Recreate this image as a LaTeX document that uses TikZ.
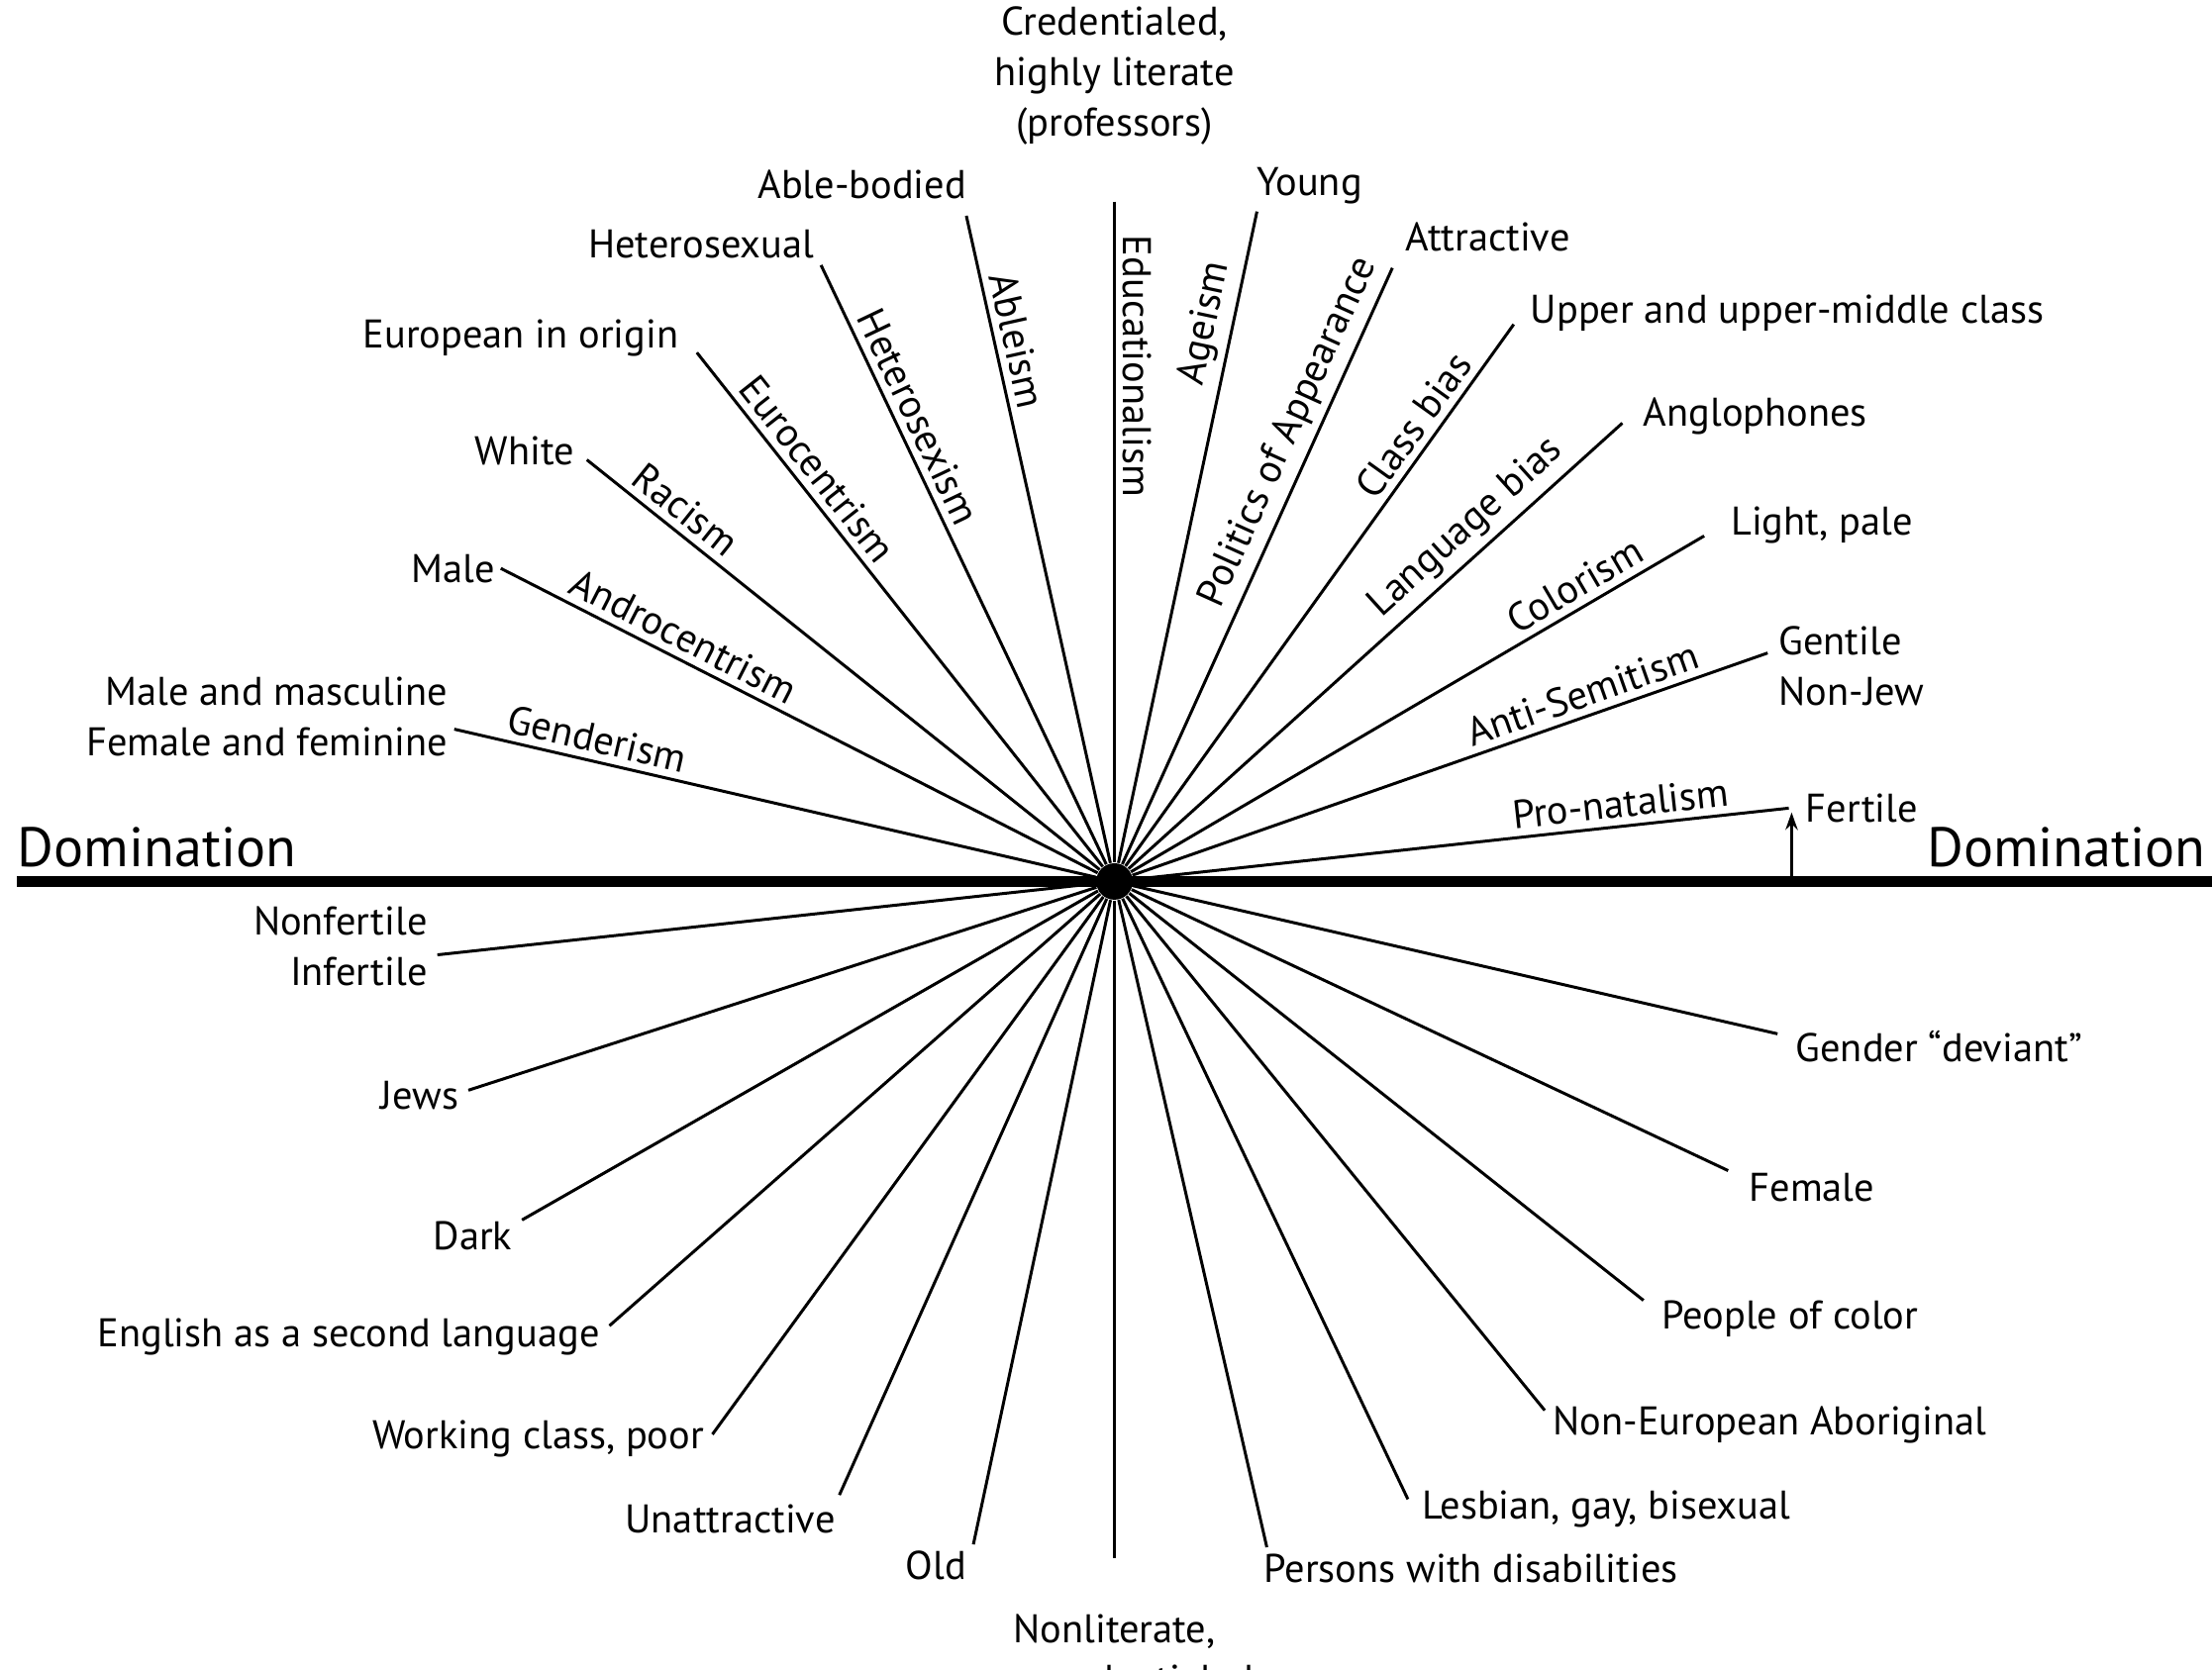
\documentclass[tikz,border=0pt]{standalone}
\usepackage{fontspec}
\setmainfont{PT Sans}
\usetikzlibrary{arrows.meta}
\begin{document}
\begin{tikzpicture}[x=0.014247cm, y=-0.014247cm,
  ray/.style={line width=0.85pt, black},
  lab/.style={font=\fontsize{11.5}{14.5}\selectfont, inner sep=1pt},
  ism/.style={font=\fontsize{11.5}{14.5}\selectfont, sloped, above, inner sep=2pt},
  dom/.style={font=\fontsize{16}{18}\selectfont, inner sep=0pt}]
\useasboundingbox (0,0) rectangle (1568,1184);
\clip (0,0) rectangle (1568,1184);
% centre
\node[circle, fill, inner sep=0pt, minimum size=10.5pt] (C) at (790,625) {};
% horizontal axis
\coordinate (hl) at (12,625);
\coordinate (hr) at (1570,625);
\draw[line width=3pt] (hl) -- (hr);
\node[dom, anchor=west] (dl) at (12,601) {Domination};
\node[dom, anchor=east] (dr) at (1564,601) {Domination};
% ray ends (upper)
\coordinate (e1) at (322,517);
\coordinate (e2) at (355,403);
\coordinate (e3) at (416,326);
\coordinate (e4) at (494,250);
\coordinate (e5) at (582,188);
\coordinate (e6) at (685,153);
\coordinate (e7) at (790,143);
\coordinate (e8) at (891,150);
\coordinate (e9) at (987,190);
\coordinate (e10) at (1073,230);
\coordinate (e11) at (1150,300);
\coordinate (e12) at (1208,380);
\coordinate (e13) at (1253,463);
\coordinate (e14) at (1268,573);
% ray ends (lower)
\coordinate (f1) at (310,677);
\coordinate (f2) at (332,773);
\coordinate (f3) at (370,865);
\coordinate (f4) at (432,940);
\coordinate (f5) at (505,1017);
\coordinate (f6) at (595,1060);
\coordinate (f7) at (690,1095);
\coordinate (f8) at (790,1105);
\coordinate (f9) at (898,1097);
\coordinate (f10) at (998,1063);
\coordinate (f11) at (1095,1000);
\coordinate (f12) at (1165,922);
\coordinate (f13) at (1225,830);
\coordinate (f14) at (1260,733);
% upper rays with their -isms
\draw[ray] (C) -- (e1) node[ism, pos=0.785] {Genderism};
\draw[ray] (C) -- (e2) node[ism, pos=0.711] {Androcentrism};
\draw[ray] (C) -- (e3) node[ism, pos=0.835] {Racism};
\draw[ray] (C) -- (e4) node[ism, pos=0.746] {Eurocentrism};
\draw[ray] (C) -- (e5) node[ism, pos=0.731] {Heterosexism};
\draw[ray] (C) -- (e6) node[ism, pos=0.80] {Ableism};
\draw[ray] (e7) -- (C) node[ism, pos=0.249] {Educationalism};
\draw[ray] (C) -- (e8) node[ism, pos=0.82] {Ageism};
\draw[ray] (C) -- (e9) node[ism, pos=0.706] {Politics of Appearance};
\draw[ray] (C) -- (e10) node[ism, pos=0.789] {Class bias};
\draw[ray] (C) -- (e11) node[ism, pos=0.72] {Language bias};
\draw[ray] (C) -- (e12) node[ism, pos=0.794] {Colorism};
\draw[ray] (C) -- (e13) node[ism, pos=0.72] {Anti-Semitism};
\draw[ray] (C) -- (e14) node[ism, pos=0.747] {Pro-natalism};
% lower rays
\foreach \i in {1,...,14} {\draw[ray] (C) -- (f\i);}
% arrow to Fertile
\coordinate (fa) at (1270,622);
\coordinate (fb) at (1270,576);
\draw[ray, -{Stealth[length=5pt,width=3.5pt]}] (fa) -- (fb);
% upper labels
\node[lab, align=center] (t7) at (790,54) {Credentialed,\\highly literate\\(professors)};
\node[lab, anchor=east, align=right] (t1) at (320,508) {Male and masculine\\Female and feminine};
\node[lab, anchor=east] (t2) at (354,403) {Male};
\node[lab, anchor=east] (t3) at (410,320) {White};
\node[lab, anchor=east] (t4) at (484,240) {European in origin};
\node[lab, anchor=east] (t5) at (580,173) {Heterosexual};
\node[lab, anchor=east] (t6) at (688,131) {Able-bodied};
\node[lab, anchor=west] (t8) at (888,132) {Young};
\node[lab, anchor=west] (t9) at (993,168) {Attractive};
\node[lab, anchor=west] (t10) at (1082,222) {Upper and upper-middle class};
\node[lab, anchor=west] (t11) at (1162,295) {Anglophones};
\node[lab, anchor=west] (t12) at (1224,372) {Light, pale};
\node[lab, anchor=west, align=left] (t13) at (1258,472) {Gentile\\Non-Jew};
\node[lab, anchor=west] (t14) at (1277,573) {Fertile};
% lower labels
\node[lab, anchor=east, align=right] (b1) at (306,671) {Nonfertile\\Infertile};
\node[lab, anchor=east] (b2) at (328,777) {Jews};
\node[lab, anchor=east] (b3) at (366,876) {Dark};
\node[lab, anchor=east] (b4) at (428,948) {English as a second language};
\node[lab, anchor=east] (b5) at (502,1020) {Working class, poor};
\node[lab, anchor=east] (b6) at (595,1077) {Unattractive};
\node[lab, anchor=east] (b7) at (688,1110) {Old};
\node[lab, align=center] (b8) at (790,1173) {Nonliterate,\\noncredentialed};
\node[lab, anchor=west] (b9) at (893,1112) {Persons with disabilities};
\node[lab, anchor=west] (b10) at (1005,1070) {Lesbian, gay, bisexual};
\node[lab, anchor=west] (b11) at (1098,1010) {Non-European Aboriginal};
\node[lab, anchor=west] (b12) at (1175,935) {People of color};
\node[lab, anchor=west] (b13) at (1237,842) {Female};
\node[lab, anchor=west] (b14) at (1270,742) {Gender “deviant”};
\end{tikzpicture}
\end{document}
